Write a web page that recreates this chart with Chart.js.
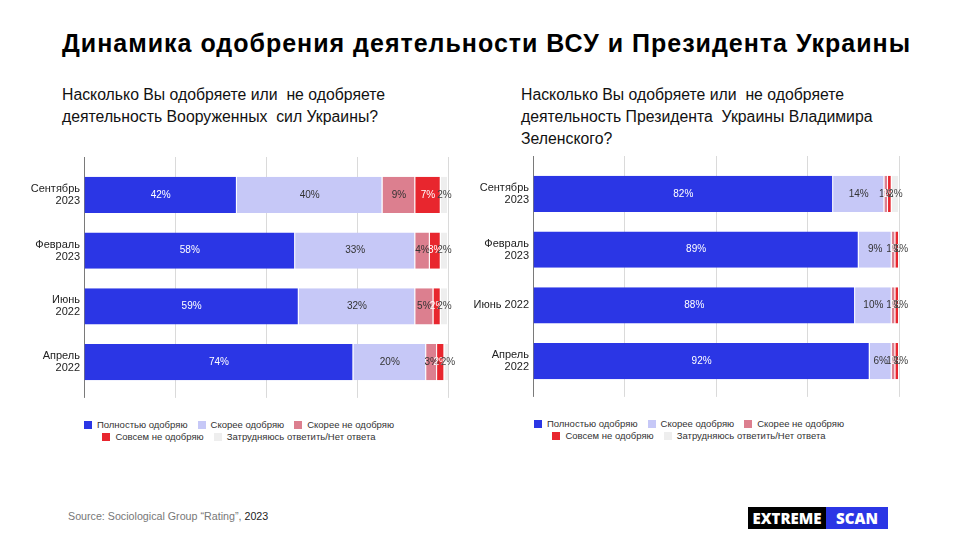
<!DOCTYPE html>
<html><head><meta charset="utf-8">
<script src="https://cdn.jsdelivr.net/npm/chart.js@4.4.1/dist/chart.umd.min.js"></script>
<style>
body{margin:0;width:960px;height:540px;background:#fff;position:relative;overflow:hidden;font-family:"Liberation Sans",Arial,sans-serif;color:#111}
.abs{position:absolute}
#title{left:62px;top:29px;font-weight:bold;font-size:25px;letter-spacing:1px;color:#000;white-space:nowrap}
.sub{font-size:15.8px;line-height:22px;color:#111}
.legend{font-size:9.5px;color:#333;text-align:center;line-height:12px}
.legend .row{white-space:nowrap}
.legend .it{display:inline-block;margin:0 5px}
.legend .bx{display:inline-block;width:8px;height:8px;margin-right:5px;vertical-align:-0.5px}
#src{left:68px;top:510px;font-size:10.7px;color:#777}
#src b{font-weight:normal;color:#222}
.logo{top:507px;height:22px;line-height:22px;color:#fff;font-family:"Open Sans",sans-serif;font-weight:800;font-size:15px;text-align:center}
</style></head>
<body>
<div id="title" class="abs">Динамика одобрения деятельности ВСУ и Президента Украины</div>
<div class="abs sub" style="left:62px;top:84px;">Насколько Вы одобряете или&nbsp; не одобряете<br>деятельность Вооруженных&nbsp; сил Украины?</div>
<div class="abs sub" style="left:521px;top:84px;">Насколько Вы одобряете или&nbsp; не одобряете<br>деятельность Президента&nbsp; Украины Владимира<br>Зеленского?</div>
<canvas id="c1" class="abs" style="left:20px;top:150px" width="438" height="256"></canvas>
<canvas id="c2" class="abs" style="left:464px;top:149px" width="446" height="256"></canvas>
<div id="lg1" class="abs legend" style="left:39px;top:419px;width:400px"></div>
<div id="lg2" class="abs legend" style="left:489px;top:418px;width:400px"></div>
<div id="src" class="abs">Source: Sociological Group “Rating”, <b>2023</b></div>
<div class="abs logo" style="left:748px;width:78px;background:#000">EXTREME</div>
<div class="abs logo" style="left:826px;width:62px;background:#2B36E5">SCAN</div>
<script>
// ---- data ----
const categoriesArmy = [["Сентябрь","2023"],["Февраль","2023"],["Июнь","2022"],["Апрель","2022"]];
const categoriesPresident = [["Сентябрь","2023"],["Февраль","2023"],"Июнь 2022",["Апрель","2022"]];
const seriesNames = ["Полностью одобряю","Скорее одобряю","Скорее не одобряю","Совсем не одобряю","Затрудняюсь ответить/Нет ответа"];
const armyFull = [42,58,59,74];
const armyRather = [40,33,32,20];
const armyRatherNot = [9,4,5,3];
const armyNot = [7,3,2,2];
const armyUnsure = [2,2,2,2];
const presFull = [82,89,88,92];
const presRather = [14,9,10,6];
const presRatherNot = [1,1,1,1];
const presNot = [1,1,1,1];
const presUnsure = [2,1,1,1];
const xTickValues = [0,25,50,75,100];

// ---- styles ----
const colors = ["#2B36E5","#C6C8F7","#DC7F8F","#E8262E","#EEEEEE"];
const labelColors = ["#ffffff","#333333","#333333","#ffffff","#444444"];

const barLabels = {
  id:'barLabels',
  afterDatasetsDraw(chart){
    const ctx = chart.ctx;
    chart.data.datasets.forEach((ds,i)=>{
      const meta = chart.getDatasetMeta(i);
      meta.data.forEach((bar,j)=>{
        ctx.save();
        ctx.font = '10px "Liberation Sans", Arial, sans-serif';
        ctx.fillStyle = labelColors[i];
        ctx.textAlign = 'center';
        ctx.textBaseline = 'middle';
        ctx.fillText(ds.data[j] + '%', (bar.x + bar.base)/2, bar.y);
        ctx.restore();
      });
    });
  }
};

function gridColor(ctx){ return ctx.tick && ctx.tick.value === 0 ? '#7a7a7a' : '#dadada'; }

function makeChart(id, labels, seriesData, yWidth, padRight){
  return new Chart(document.getElementById(id), {
    type:'bar',
    data:{
      labels: labels,
      datasets: seriesData.map((d,i)=>({label:seriesNames[i], data:d, backgroundColor:colors[i], borderColor:'rgba(255,255,255,0.6)', borderWidth:{right:1}, borderSkipped:false, barPercentage:0.65, categoryPercentage:1}))
    },
    options:{
      indexAxis:'y', responsive:false, animation:false,
      layout:{padding:{top:7,right:padRight,left:0,bottom:3}},
      plugins:{legend:{display:false}, tooltip:{enabled:false}},
      scales:{
        x:{type:'linear', stacked:true, min:0, max:100, afterBuildTicks:s=>{s.ticks = xTickValues.map(v=>({value:v}));},
           ticks:{display:false}, grid:{color:gridColor, tickLength:8}, border:{display:false}},
        x2:{type:'linear', position:'top', min:0, max:100, afterBuildTicks:s=>{s.ticks = xTickValues.map(v=>({value:v}));},
           ticks:{display:false}, grid:{color:gridColor, tickLength:10, drawOnChartArea:false}, border:{display:false}},
        y:{stacked:true, grid:{display:false, drawTicks:false}, border:{display:false},
           ticks:{color:'#222', padding:4, font:{size:11, family:'"Liberation Sans", Arial, sans-serif', lineHeight:1.1}},
           afterFit:s=>{s.width = yWidth;}}
      }
    },
    plugins:[barLabels]
  });
}

makeChart('c1', categoriesArmy, [armyFull,armyRather,armyRatherNot,armyNot,armyUnsure], 64, 10);
makeChart('c2', categoriesPresident, [presFull,presRather,presRatherNot,presNot,presUnsure], 69, 11);

function buildLegend(id){
  const el = document.getElementById(id);
  const rows = [[0,1,2],[3,4]];
  el.innerHTML = rows.map(r=>'<div class="row">' + r.map(i=>'<span class="it"><span class="bx" style="background:'+colors[i]+'"></span>'+seriesNames[i]+'</span>').join('') + '</div>').join('');
}
buildLegend('lg1'); buildLegend('lg2');
</script>
</body></html>
